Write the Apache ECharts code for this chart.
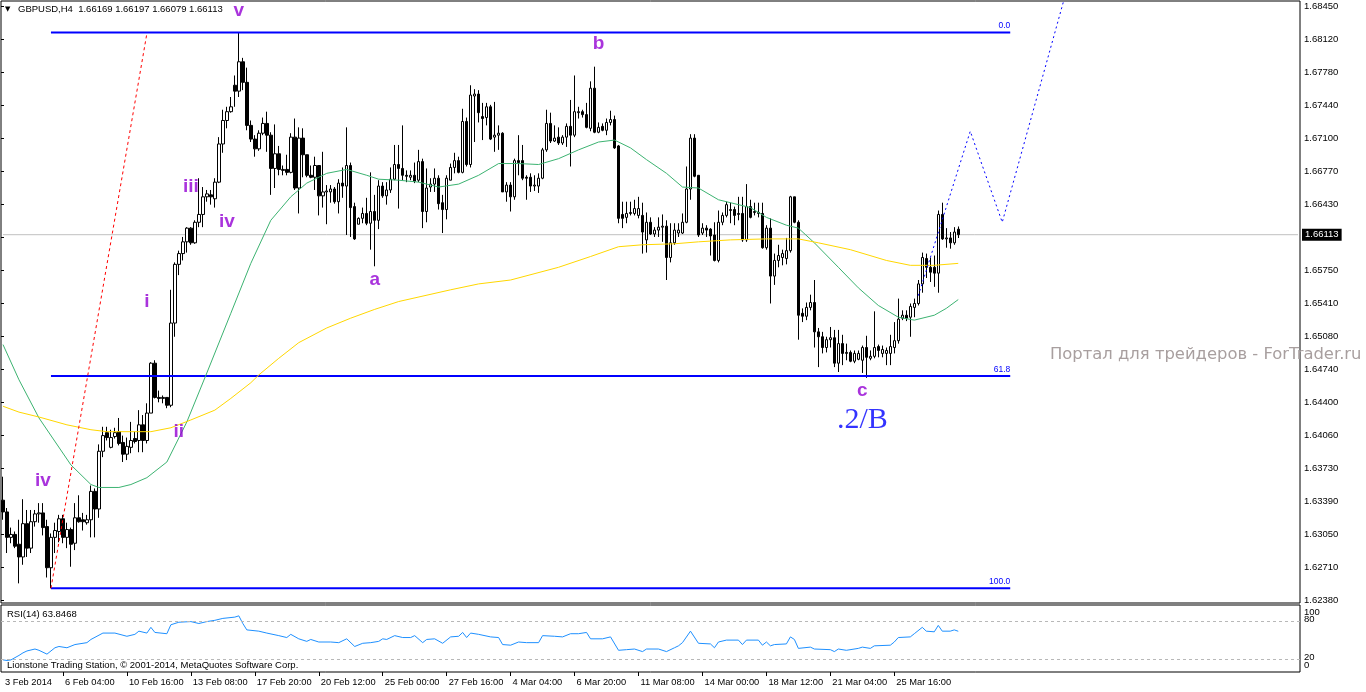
<!DOCTYPE html>
<html><head><meta charset="utf-8">
<script src="https://cdn.jsdelivr.net/npm/echarts/dist/echarts.min.js"></script>
<style>html,body{margin:0;padding:0;background:#fff}#c{width:1366px;height:692px}</style>
</head><body><div id="c"></div>
<script>
// ---- data ----
const symbolTitle = 'GBPUSD,H4  1.66169 1.66197 1.66079 1.66113';
const totalSlots = 325;
// [open, close, low, high]
const candles = [
[1.6340,1.6328,1.6320,1.6364],[1.6328,1.6302,1.6286,1.6332],[1.6302,1.6305,1.6296,1.6312],[1.6305,1.6293,1.6291,1.6308],
[1.6295,1.6282,1.6255,1.6320],[1.6282,1.6316,1.6274,1.6341],[1.6316,1.6291,1.6282,1.6330],[1.6291,1.6318,1.6286,1.6330],
[1.6318,1.6326,1.6313,1.6330],[1.6326,1.6327,1.6317,1.6337],[1.6327,1.6312,1.6304,1.6337],[1.6313,1.6271,1.6261,1.6320],
[1.6271,1.6302,1.6250,1.6306],[1.6302,1.6309,1.6286,1.6317],[1.6308,1.6321,1.6297,1.6325],[1.6321,1.6302,1.6296,1.6325],
[1.6302,1.6310,1.6291,1.6317],[1.6310,1.6295,1.6272,1.6312],[1.6296,1.6322,1.6289,1.6337],[1.6322,1.6318,1.6317,1.6345],
[1.6320,1.6318,1.6309,1.6327],[1.6317,1.6320,1.6315,1.6325],[1.6320,1.6349,1.6302,1.6355],[1.6349,1.6331,1.6302,1.6352],
[1.6331,1.6390,1.6322,1.6397],[1.6390,1.6406,1.6384,1.6415],[1.6409,1.6404,1.6401,1.6415],[1.6394,1.6404,1.6393,1.6412],
[1.6405,1.6409,1.6403,1.6414],[1.6410,1.6398,1.6396,1.6424],[1.6399,1.6387,1.6379,1.6406],[1.6387,1.6395,1.6381,1.6404],
[1.6394,1.6401,1.6388,1.6420],[1.6403,1.6400,1.6398,1.6410],[1.6401,1.6417,1.6389,1.6432],[1.6417,1.6401,1.6389,1.6427],
[1.6401,1.6429,1.6398,1.6439],[1.6429,1.6480,1.6429,1.6481],[1.6480,1.6445,1.6444,1.6483],[1.6445,1.6444,1.6440,1.6452],
[1.6444,1.6445,1.6439,1.6447],[1.6445,1.6437,1.6434,1.6445],[1.6437,1.6521,1.6435,1.6555],[1.6521,1.6581,1.6507,1.6583],
[1.6581,1.6592,1.6570,1.6595],[1.6592,1.6604,1.6585,1.6609],[1.6604,1.6618,1.6593,1.6619],[1.6618,1.6603,1.6601,1.6619],
[1.6603,1.6624,1.6602,1.6626],[1.6624,1.6632,1.6619,1.6669],[1.6632,1.6650,1.6619,1.6660],[1.6650,1.6653,1.6645,1.6657],
[1.6652,1.6650,1.6642,1.6657],[1.6648,1.6665,1.6639,1.6669],[1.6665,1.6704,1.6664,1.6711],[1.6704,1.6728,1.6695,1.6739],
[1.6728,1.6737,1.6720,1.6742],[1.6737,1.6742,1.6736,1.6752],[1.6764,1.6758,1.6742,1.6774],[1.6758,1.6788,1.6752,1.6818],
[1.6788,1.6767,1.6759,1.6792],[1.6767,1.6723,1.6718,1.6782],[1.6723,1.6709,1.6706,1.6728],[1.6709,1.6699,1.6691,1.6713],
[1.6699,1.6715,1.6697,1.6718],[1.6715,1.6725,1.6713,1.6731],[1.6725,1.6713,1.6696,1.6737],[1.6713,1.6679,1.6652,1.6716],
[1.6679,1.6694,1.6659,1.6724],[1.6694,1.6678,1.6672,1.6702],[1.6677,1.6678,1.6672,1.6682],[1.6678,1.6675,1.6672,1.6693],
[1.6675,1.6711,1.6674,1.6715],[1.6711,1.6659,1.6657,1.6730],[1.6659,1.6710,1.6633,1.6721],[1.6710,1.6693,1.6670,1.6720],
[1.6693,1.6672,1.6670,1.6693],[1.6672,1.6670,1.6669,1.6682],[1.6670,1.6682,1.6657,1.6691],[1.6682,1.6651,1.6631,1.6682],
[1.6651,1.6655,1.6639,1.6696],[1.6655,1.6656,1.6622,1.6662],[1.6655,1.6658,1.6644,1.6662],[1.6658,1.6645,1.6643,1.6660],
[1.6645,1.6664,1.6633,1.6668],[1.6664,1.6661,1.6649,1.6680],[1.6661,1.6682,1.6611,1.6721],[1.6682,1.6639,1.6609,1.6685],
[1.6640,1.6607,1.6606,1.6644],[1.6622,1.6628,1.6622,1.6629],[1.6628,1.6633,1.6623,1.6639],[1.6633,1.6623,1.6621,1.6649],
[1.6623,1.6635,1.6596,1.6675],[1.6635,1.6626,1.6579,1.6652],[1.6626,1.6661,1.6617,1.6667],[1.6661,1.6651,1.6649,1.6665],
[1.6651,1.6657,1.6642,1.6665],[1.6657,1.6668,1.6654,1.6680],[1.6668,1.6683,1.6667,1.6703],[1.6683,1.6679,1.6638,1.6703],
[1.6679,1.6672,1.6667,1.6723],[1.6672,1.6671,1.6665,1.6677],[1.6670,1.6672,1.6667,1.6677],[1.6672,1.6666,1.6664,1.6685],
[1.6667,1.6686,1.6665,1.6698],[1.6686,1.6635,1.6618,1.6689],[1.6635,1.6659,1.6624,1.6679],[1.6660,1.6663,1.6655,1.6669],
[1.6663,1.6669,1.6655,1.6679],[1.6669,1.6643,1.6637,1.6672],[1.6644,1.6637,1.6613,1.6652],[1.6637,1.6669,1.6627,1.6672],
[1.6667,1.6680,1.6667,1.6684],[1.6680,1.6687,1.6674,1.6695],[1.6687,1.6675,1.6674,1.6691],[1.6675,1.6727,1.6674,1.6740],
[1.6727,1.6683,1.6681,1.6731],[1.6683,1.6754,1.6680,1.6764],[1.6753,1.6755,1.6706,1.6760],[1.6755,1.6736,1.6726,1.6759],
[1.6732,1.6730,1.6708,1.6746],[1.6731,1.6742,1.6723,1.6746],[1.6742,1.6709,1.6708,1.6744],[1.6711,1.6713,1.6696,1.6747],
[1.6713,1.6715,1.6698,1.6723],[1.6715,1.6655,1.6655,1.6716],[1.6655,1.6662,1.6645,1.6665],[1.6662,1.6650,1.6635,1.6665],
[1.6650,1.6687,1.6647,1.6689],[1.6687,1.6685,1.6672,1.6713],[1.6687,1.6669,1.6667,1.6703],[1.6670,1.6669,1.6647,1.6672],
[1.6670,1.6661,1.6655,1.6674],[1.6661,1.6662,1.6656,1.6672],[1.6661,1.6669,1.6654,1.6674],[1.6669,1.6698,1.6668,1.6700],
[1.6698,1.6725,1.6696,1.6739],[1.6725,1.6707,1.6705,1.6736],[1.6707,1.6710,1.6706,1.6723],[1.6711,1.6705,1.6703,1.6721],
[1.6705,1.6711,1.6703,1.6713],[1.6711,1.6722,1.6701,1.6725],[1.6722,1.6713,1.6681,1.6749],[1.6713,1.6737,1.6711,1.6774],
[1.6736,1.6737,1.6730,1.6742],[1.6737,1.6734,1.6731,1.6739],[1.6734,1.6721,1.6720,1.6746],[1.6720,1.6761,1.6717,1.6768],
[1.6761,1.6716,1.6715,1.6783],[1.6716,1.6721,1.6715,1.6726],[1.6722,1.6718,1.6717,1.6725],[1.6718,1.6726,1.6713,1.6730],
[1.6726,1.6729,1.6723,1.6738],[1.6729,1.6700,1.6699,1.6733],[1.6702,1.6628,1.6623,1.6703],[1.6632,1.6628,1.6618,1.6645],
[1.6629,1.6633,1.6623,1.6645],[1.6633,1.6634,1.6631,1.6645],[1.6633,1.6638,1.6631,1.6647],[1.6631,1.6638,1.6628,1.6650],
[1.6631,1.6614,1.6592,1.6644],[1.6606,1.6624,1.6593,1.6634],[1.6624,1.6612,1.6611,1.6629],[1.6612,1.6616,1.6609,1.6619],
[1.6616,1.6619,1.6609,1.6629],[1.6619,1.6620,1.6604,1.6632],[1.6620,1.6588,1.6565,1.6626],[1.6588,1.6603,1.6583,1.6623],
[1.6603,1.6616,1.6601,1.6623],[1.6613,1.6616,1.6609,1.6623],[1.6613,1.6624,1.6612,1.6633],[1.6624,1.6658,1.6623,1.6681],
[1.6658,1.6710,1.6647,1.6714],[1.6710,1.6671,1.6670,1.6714],[1.6672,1.6611,1.6609,1.6672],[1.6613,1.6618,1.6611,1.6623],
[1.6618,1.6616,1.6609,1.6621],[1.6617,1.6610,1.6590,1.6618],[1.6611,1.6585,1.6584,1.6624],[1.6585,1.6624,1.6583,1.6636],
[1.6624,1.6631,1.6621,1.6634],[1.6631,1.6642,1.6629,1.6645],[1.6636,1.6637,1.6623,1.6644],[1.6637,1.6631,1.6621,1.6640],
[1.6632,1.6633,1.6626,1.6650],[1.6633,1.6606,1.6604,1.6650],[1.6606,1.6640,1.6604,1.6663],[1.6640,1.6629,1.6628,1.6647],
[1.6634,1.6635,1.6631,1.6644],[1.6633,1.6634,1.6629,1.6644],[1.6633,1.6598,1.6597,1.6644],[1.6598,1.6618,1.6596,1.6621],
[1.6618,1.6569,1.6541,1.6628],[1.6569,1.6585,1.6560,1.6592],[1.6585,1.6590,1.6578,1.6601],[1.6588,1.6592,1.6580,1.6596],
[1.6587,1.6595,1.6581,1.6608],[1.6595,1.6650,1.6593,1.6651],[1.6650,1.6624,1.6623,1.6650],[1.6624,1.6529,1.6504,1.6626],
[1.6531,1.6528,1.6522,1.6536],[1.6528,1.6537,1.6524,1.6542],[1.6537,1.6542,1.6534,1.6550],[1.6542,1.6512,1.6496,1.6565],
[1.6512,1.6507,1.6476,1.6516],[1.6507,1.6496,1.6490,1.6512],[1.6496,1.6504,1.6491,1.6507],[1.6504,1.6506,1.6496,1.6517],
[1.6506,1.6480,1.6476,1.6514],[1.6480,1.6500,1.6471,1.6514],[1.6500,1.6490,1.6478,1.6509],[1.6490,1.6491,1.6483,1.6500],
[1.6491,1.6482,1.6481,1.6493],[1.6482,1.6490,1.6480,1.6493],[1.6484,1.6490,1.6483,1.6493],[1.6483,1.6496,1.6470,1.6498],
[1.6496,1.6486,1.6465,1.6508],[1.6485,1.6487,1.6483,1.6493],[1.6487,1.6496,1.6485,1.6533],[1.6497,1.6493,1.6486,1.6499],
[1.6490,1.6494,1.6486,1.6498],[1.6490,1.6493,1.6478,1.6496],[1.6490,1.6497,1.6478,1.6509],[1.6496,1.6503,1.6490,1.6522],
[1.6503,1.6525,1.6500,1.6546],[1.6526,1.6529,1.6524,1.6534],[1.6529,1.6526,1.6523,1.6534],[1.6527,1.6538,1.6507,1.6541],
[1.6537,1.6541,1.6527,1.6546],[1.6541,1.6561,1.6539,1.6565],[1.6561,1.6588,1.6552,1.6593],[1.6587,1.6578,1.6567,1.6592],
[1.6578,1.6573,1.6563,1.6588],[1.6578,1.6572,1.6558,1.6590],[1.6572,1.6632,1.6552,1.6636],[1.6632,1.6607,1.6606,1.6644],
[1.6607,1.6608,1.6598,1.6618],[1.6608,1.6603,1.6597,1.6614],[1.6603,1.6614,1.6601,1.6619],[1.66169,1.66113,1.66079,1.66197]
];
// moving averages sampled at bar index: [bar, value]
const greenMA = [[0,1.6499],[4,1.6463],[9,1.6424],[17,1.6376],[22,1.6356],[24,1.6353],[29,1.6353],[32,1.6356],[36,1.6363],[41,1.6379],[46,1.6420],[51,1.6470],[57,1.6531],[62,1.6582],[67,1.6626],[72,1.6650],[76,1.6664],[81,1.6674],[86,1.6678],[91,1.6672],[94,1.6668],[99,1.6667],[104,1.6665],[109,1.6660],[114,1.6663],[119,1.6672],[124,1.6684],[129,1.6684],[134,1.6683],[139,1.6689],[144,1.6698],[149,1.6706],[153,1.6708],[157,1.6700],[161,1.6688],[166,1.6674],[170,1.6660],[174,1.6659],[179,1.6647],[187,1.6639],[191,1.6629],[196,1.6621],[199,1.6618],[203,1.6603],[209,1.6578],[214,1.6557],[219,1.6539],[224,1.6527],[228,1.6524],[233,1.6529],[236,1.6536],[239,1.6545]];
const yellowMA = [[0,1.6436],[4,1.6430],[9,1.6425],[16,1.6417],[22,1.6412],[26,1.6410],[32,1.6410],[37,1.6410],[42,1.6414],[47,1.6422],[53,1.6432],[57,1.6444],[62,1.6460],[64,1.6468],[69,1.6485],[74,1.6501],[81,1.6516],[87,1.6526],[93,1.6535],[99,1.6543],[112,1.6555],[119,1.6561],[127,1.6565],[139,1.6578],[147,1.6589],[154,1.6599],[160,1.6601],[168,1.6602],[174,1.6604],[182,1.6606],[191,1.6607],[199,1.6607],[204,1.6603],[212,1.6596],[221,1.6585],[227,1.6580],[233,1.6580],[239,1.6582]];
// RSI(14): [bar, value]
const rsi = [[0,19],[1,18],[2,19],[4,26],[5,30],[6,33],[8,36],[9,34],[11,28],[13,38],[14,40],[16,38],[18,43],[21,46],[22,51],[25,61],[28,61],[31,56],[33,59],[34,64],[36,61],[37,70],[38,62],[41,60],[42,74],[44,78],[47,79],[49,76],[51,79],[53,81],[55,84],[58,86],[59,88],[60,76],[61,66],[64,64],[66,61],[69,57],[71,54],[72,59],[74,52],[76,48],[77,51],[79,47],[82,47],[84,46],[86,52],[88,40],[90,45],[92,46],[94,48],[95,52],[96,51],[98,57],[100,54],[102,54],[103,57],[105,46],[106,51],[108,52],[110,45],[112,55],[114,56],[115,62],[116,54],[117,61],[119,59],[122,55],[124,54],[125,43],[127,42],[129,47],[131,46],[134,46],[135,57],[138,56],[140,55],[142,60],[144,60],[146,62],[147,52],[150,52],[152,55],[154,34],[156,35],[158,36],[160,32],[161,36],[164,36],[166,32],[168,38],[169,41],[170,46],[172,64],[174,45],[177,44],[178,38],[179,47],[181,50],[184,50],[185,43],[186,50],[189,50],[190,42],[191,47],[192,41],[193,43],[196,44],[197,55],[198,51],[199,37],[202,39],[203,36],[207,35],[208,32],[209,36],[211,34],[214,37],[215,39],[217,37],[218,41],[222,42],[223,47],[224,54],[227,55],[228,60],[230,70],[231,64],[233,63],[234,73],[235,64],[237,64],[238,66],[239,63.8468]];
const rsiLevels = [80, 20];
const rsiInnerLabels = [20, 80];
const rsiOuterLabels = [0, 100];
// Fibonacci retracement
const fibHigh = 1.6818, fibLow = 1.6250;
const fibRatios = [0, 61.8, 100];
const fibStartBar = 12, fibEndBar = 252;
// trend / projection lines: [bar, price]
const redTrend = [[12,1.6250],[36,1.6817]];
const projection = [[229,1.6549],[242,1.6717],[250,1.6624],[268,1.6889]];
// wave labels: [bar, price, text]
const waveLabels = [[59,1.6840,'v'],[47,1.6660,'iii'],[56,1.6625,'iv'],[36,1.6543,'i'],[43.5,1.6410,'ii'],[10,1.6360,'iv'],[149,1.6806,'b'],[93,1.6565,'a'],[214.75,1.6452,'c']];
const bigLabel = [214.75,1.6422,'.2/B'];
// axes
const priceTicks = ['1.62380','1.62710','1.63050','1.63390','1.63730','1.64060','1.64400','1.64740','1.65080','1.65410','1.65750','1.66090','1.66430','1.66770','1.67100','1.67440','1.67780','1.68120','1.68450'];
const dateLabelBars = [0,15,31,47,63,79,95,111,127,143,159,175,191,207,223];
const dateLabels = ['3 Feb 2014','6 Feb 04:00','10 Feb 16:00','13 Feb 08:00','17 Feb 20:00','20 Feb 12:00','25 Feb 00:00','27 Feb 16:00','4 Mar 04:00','6 Mar 20:00','11 Mar 08:00','14 Mar 00:00','18 Mar 12:00','21 Mar 04:00','25 Mar 16:00'];
const lastClose = 1.66113;
const rsiLast = 63.8468;

// ---- chart ----
const FONT = 'Liberation Sans';
const cats = Array.from({length: totalSlots}, (_, i) => String(i));
const pLo = parseFloat(priceTicks[0]), pHi = parseFloat(priceTicks[priceTicks.length-1]);
const nSteps = priceTicks.length - 1;
const step = (pHi - pLo) / nSteps;
// main grid spans 1..603 px; price ticks at 6..600 px (33 px per step)
const belowFrac = 3/33, aboveFrac = 5/33;
const priceMin = pLo - belowFrac*step, priceMax = pHi + aboveFrac*step;
const dateMap = {}; dateLabelBars.forEach((b, k) => dateMap[b] = dateLabels[k]);

const fibSeries = fibRatios.map(r => {
  const price = fibHigh - r/100*(fibHigh - fibLow);
  return {
    type:'line', xAxisIndex:0, yAxisIndex:0, symbol:'circle', symbolSize:0.1, showSymbol:true, showAllSymbol:true, silent:true,
    itemStyle:{color:'#0000ff'},
    lineStyle:{color:'#0000ff', width:2},
    label:{show:false},
    data:[[fibStartBar, price], {value:[fibEndBar, price], label:{show:true, position:'top', distance:2, align:'right', formatter: r.toFixed(1), color:'#0000ff', fontSize:8.5, fontFamily:FONT}}],
    z:3
  };
});

const rsiAxisBase = {type:'value', gridIndex:1, min:0, max:105, interval:20, position:'right',
  axisLine:{show:false}, splitLine:{show:false}, axisTick:{show:false}};
const rsiRich = {a:{padding:[8,0,0,0], fontSize:9.5, fontFamily:FONT}, b:{padding:[0,0,4,0], fontSize:9.5, fontFamily:FONT}, d:{padding:[0,0,14,0], fontSize:9.5, fontFamily:FONT}};

const chart = echarts.init(document.getElementById('c'), null, {renderer:'canvas'});
chart.setOption({
  animation:false,
  backgroundColor:'#ffffff',
  grid:[
    {left:1, top:1, width:1299, height:602, show:true, borderColor:'#000', borderWidth:1, backgroundColor:'#fff'},
    {left:1, top:605, width:1299, height:67, show:true, borderColor:'#000', borderWidth:1, backgroundColor:'#fff'},
    {left:1, top:6, width:1299, height:594, show:false}
  ],
  xAxis:[
    {type:'category', gridIndex:0, data:cats, boundaryGap:true, show:false},
    {type:'category', gridIndex:1, data:cats, boundaryGap:true,
      axisLine:{show:false},
      axisTick:{show:true, alignWithLabel:true, interval:(i)=> dateMap[i]!==undefined && i>0, length:4, lineStyle:{color:'#000'}},
      axisLabel:{interval:(i)=> dateMap[i]!==undefined, formatter:(v, i)=> dateMap[i] || '', align:'left', margin:6, padding:[0,0,0,2], fontSize:9.3, color:'#000', fontFamily:FONT},
      splitLine:{show:false}},
    {type:'value', gridIndex:2, min:0, max:1, show:false}
  ],
  yAxis:[
    {type:'value', gridIndex:0, min:priceMin, max:priceMax, show:false},
    Object.assign({}, rsiAxisBase, {axisLabel:{margin:4, fontSize:9.5, color:'#000', fontFamily:FONT, hideOverlap:false,
        formatter:(v)=> rsiInnerLabels.includes(v) ? '{b|'+v+'}' : '', rich:rsiRich}}),
    {type:'value', gridIndex:2, min:0, max:nSteps, interval:1, position:'right',
      axisLine:{show:false}, splitLine:{show:false},
      axisTick:{show:true, length:3, lineStyle:{color:'#000'}},
      axisLabel:{margin:4, fontSize:9.5, color:'#000', fontFamily:FONT, showMinLabel:true, showMaxLabel:true,
        formatter:(v)=> priceTicks[Math.round(v)] || ''}},
    Object.assign({}, rsiAxisBase, {axisLabel:{margin:4, fontSize:9.5, color:'#000', fontFamily:FONT, showMinLabel:true, hideOverlap:false,
        formatter:(v)=> !rsiOuterLabels.includes(v) ? '' : (v===100?'{a|100}':'{d|0}'), rich:rsiRich}})
  ],
  series:[
    {type:'candlestick', xAxisIndex:0, yAxisIndex:0, data:candles, barWidth:3, silent:true,
      itemStyle:{color:'#ffffff', color0:'#000000', borderColor:'#000000', borderColor0:'#000000', borderWidth:1}, z:2},
    {type:'line', xAxisIndex:0, yAxisIndex:0, data:[[0,lastClose],[totalSlots-1,lastClose]], symbol:'none', silent:true,
      lineStyle:{color:'#c0c0c0', width:1},
      endLabel:{show:true, distance:4, formatter: lastClose.toFixed(5), backgroundColor:'#000', color:'#fff', padding:[1,3,1,3], fontSize:9.5, fontFamily:FONT}, z:1},
    {type:'line', xAxisIndex:0, yAxisIndex:0, data:greenMA, symbol:'none', silent:true, lineStyle:{color:'#3CB371', width:1}, z:4},
    {type:'line', xAxisIndex:0, yAxisIndex:0, data:yellowMA, symbol:'none', silent:true, lineStyle:{color:'#FFD700', width:1}, z:4},
    ...fibSeries,
    {type:'line', xAxisIndex:0, yAxisIndex:0, data:redTrend, symbol:'none', silent:true, lineStyle:{color:'#ff0000', width:1, type:[3,3]}, z:5},
    {type:'line', xAxisIndex:0, yAxisIndex:0, data:projection, symbol:'none', silent:true, lineStyle:{color:'#0000ff', width:1, type:[2,3]}, z:5},
    {type:'scatter', xAxisIndex:0, yAxisIndex:0, symbolSize:1, silent:true, itemStyle:{color:'rgba(0,0,0,0)'},
      data: waveLabels.map(w => ({value:[w[0], w[1]], label:{formatter:w[2]}})),
      label:{show:true, position:'inside', color:'#9400D3', fontSize:19, fontWeight:'bold', fontFamily:FONT}, z:6},
    {type:'scatter', xAxisIndex:0, yAxisIndex:0, symbolSize:1, silent:true, itemStyle:{color:'rgba(0,0,0,0)'},
      data:[{value:[bigLabel[0], bigLabel[1]], label:{formatter:bigLabel[2]}}],
      label:{show:true, position:'inside', color:'#0000ff', fontSize:30, fontFamily:'Liberation Serif'}, z:6},
    {type:'line', xAxisIndex:1, yAxisIndex:1, data:rsi, symbol:'none', silent:true, lineStyle:{color:'#1E90FF', width:1},
      markLine:{silent:true, symbol:'none', label:{show:false}, lineStyle:{color:'#b8b8b8', width:1, type:[3,3]},
        data: rsiLevels.map(v => ({yAxis:v}))}, z:3}
  ],
  graphic:[
    {type:'text', left:5, top:6, style:{text:'▼', font:'7px "DejaVu Sans"', fill:'#000'}, z:100},
    {type:'text', left:18, top:4, style:{text:symbolTitle, font:'9.5px "Liberation Sans"', fill:'#000'}, z:100},
    {type:'text', left:7, top:609, style:{text:'RSI(14) ' + rsiLast.toFixed(4), font:'9.5px "Liberation Sans"', fill:'#000'}, z:100},
    {type:'text', left:7, top:660, style:{text:'Lionstone Trading Station, © 2001-2014, MetaQuotes Software Corp.', font:'9.5px "Liberation Sans"', fill:'#000'}, z:100},
    {type:'text', left:1050, top:347, style:{text:'Портал для трейдеров - ForTrader.ru', font:'16.4px "DejaVu Sans"', fill:'#a89f9f'}, z:100}
  ]
});
</script></body></html>
